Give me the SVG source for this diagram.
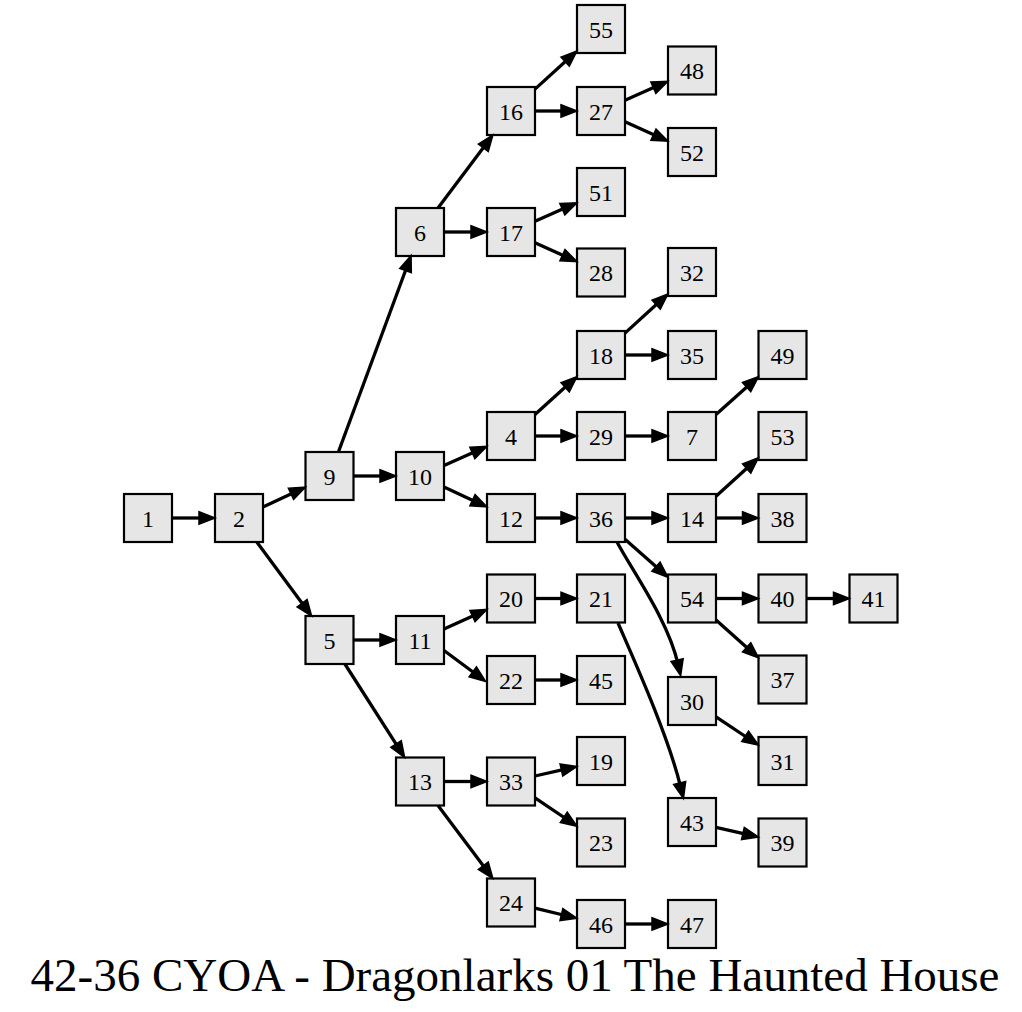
<svg xmlns="http://www.w3.org/2000/svg" width="1022" height="1012" viewBox="0 0 1022 1012">
<style>
.node rect{fill:#e6e6e6;stroke:#000;stroke-width:2.2}
.node text{font-family:"Liberation Serif","Times New Roman",serif;font-size:24px;text-anchor:middle;fill:#000}
.edge{stroke:#000;stroke-width:3.3;fill:none;marker-end:url(#ah)}
.title{font-family:"Liberation Serif","Times New Roman",serif;font-size:47px;text-anchor:middle;fill:#000}
</style>
<defs>
<marker id="ah" viewBox="0 0 16 14" refX="4" refY="7" markerWidth="16" markerHeight="14" markerUnits="userSpaceOnUse" orient="auto" overflow="visible">
<path d="M0,0.8 L16,7 L0,13.2 z" fill="#000" stroke="#000" stroke-width="1.5" stroke-linejoin="miter"/>
</marker>
</defs>
<rect width="1022" height="1012" fill="#fff"/>
<g id="nodes">
<g id="n1" class="node"><rect x="124" y="494" width="48" height="48"/><text x="148" y="526.5">1</text></g>
<g id="n2" class="node"><rect x="215" y="494" width="48" height="48"/><text x="239" y="526.5">2</text></g>
<g id="n9" class="node"><rect x="305.5" y="452" width="48" height="48"/><text x="329.5" y="484.5">9</text></g>
<g id="n5" class="node"><rect x="305.5" y="616" width="48" height="48"/><text x="329.5" y="648.5">5</text></g>
<g id="n6" class="node"><rect x="396" y="208" width="48" height="48"/><text x="420" y="240.5">6</text></g>
<g id="n10" class="node"><rect x="396" y="452" width="48" height="48"/><text x="420" y="484.5">10</text></g>
<g id="n11" class="node"><rect x="396" y="616" width="48" height="48"/><text x="420" y="648.5">11</text></g>
<g id="n13" class="node"><rect x="396" y="757.5" width="48" height="48"/><text x="420" y="790">13</text></g>
<g id="n16" class="node"><rect x="487" y="87" width="48" height="48"/><text x="511" y="119.5">16</text></g>
<g id="n17" class="node"><rect x="487" y="208" width="48" height="48"/><text x="511" y="240.5">17</text></g>
<g id="n4" class="node"><rect x="487" y="412" width="48" height="48"/><text x="511" y="444.5">4</text></g>
<g id="n12" class="node"><rect x="487" y="494" width="48" height="48"/><text x="511" y="526.5">12</text></g>
<g id="n20" class="node"><rect x="487" y="574.5" width="48" height="48"/><text x="511" y="607">20</text></g>
<g id="n22" class="node"><rect x="487" y="656" width="48" height="48"/><text x="511" y="688.5">22</text></g>
<g id="n33" class="node"><rect x="487" y="757.5" width="48" height="48"/><text x="511" y="790">33</text></g>
<g id="n24" class="node"><rect x="487" y="878.5" width="48" height="48"/><text x="511" y="911">24</text></g>
<g id="n55" class="node"><rect x="577" y="5" width="48" height="48"/><text x="601" y="37.5">55</text></g>
<g id="n27" class="node"><rect x="577" y="87" width="48" height="48"/><text x="601" y="119.5">27</text></g>
<g id="n51" class="node"><rect x="577" y="168" width="48" height="48"/><text x="601" y="200.5">51</text></g>
<g id="n28" class="node"><rect x="577" y="248.5" width="48" height="48"/><text x="601" y="281">28</text></g>
<g id="n18" class="node"><rect x="577" y="331" width="48" height="48"/><text x="601" y="363.5">18</text></g>
<g id="n29" class="node"><rect x="577" y="412" width="48" height="48"/><text x="601" y="444.5">29</text></g>
<g id="n36" class="node"><rect x="577" y="494" width="48" height="48"/><text x="601" y="526.5">36</text></g>
<g id="n21" class="node"><rect x="577" y="574.5" width="48" height="48"/><text x="601" y="607">21</text></g>
<g id="n45" class="node"><rect x="577" y="656" width="48" height="48"/><text x="601" y="688.5">45</text></g>
<g id="n19" class="node"><rect x="577" y="737" width="48" height="48"/><text x="601" y="769.5">19</text></g>
<g id="n23" class="node"><rect x="577" y="818.5" width="48" height="48"/><text x="601" y="851">23</text></g>
<g id="n46" class="node"><rect x="577" y="900" width="48" height="48"/><text x="601" y="932.5">46</text></g>
<g id="n48" class="node"><rect x="668" y="46.5" width="48" height="48"/><text x="692" y="79">48</text></g>
<g id="n52" class="node"><rect x="668" y="128" width="48" height="48"/><text x="692" y="160.5">52</text></g>
<g id="n32" class="node"><rect x="668" y="248" width="48" height="48"/><text x="692" y="280.5">32</text></g>
<g id="n35" class="node"><rect x="668" y="331" width="48" height="48"/><text x="692" y="363.5">35</text></g>
<g id="n7" class="node"><rect x="668" y="412" width="48" height="48"/><text x="692" y="444.5">7</text></g>
<g id="n14" class="node"><rect x="668" y="494" width="48" height="48"/><text x="692" y="526.5">14</text></g>
<g id="n54" class="node"><rect x="668" y="574.5" width="48" height="48"/><text x="692" y="607">54</text></g>
<g id="n30" class="node"><rect x="668" y="677" width="48" height="48"/><text x="692" y="709.5">30</text></g>
<g id="n43" class="node"><rect x="668" y="798" width="48" height="48"/><text x="692" y="830.5">43</text></g>
<g id="n47" class="node"><rect x="668" y="900" width="48" height="48"/><text x="692" y="932.5">47</text></g>
<g id="n49" class="node"><rect x="758.5" y="331" width="48" height="48"/><text x="782.5" y="363.5">49</text></g>
<g id="n53" class="node"><rect x="758.5" y="412" width="48" height="48"/><text x="782.5" y="444.5">53</text></g>
<g id="n38" class="node"><rect x="758.5" y="494" width="48" height="48"/><text x="782.5" y="526.5">38</text></g>
<g id="n40" class="node"><rect x="758.5" y="574.5" width="48" height="48"/><text x="782.5" y="607">40</text></g>
<g id="n37" class="node"><rect x="758.5" y="655.5" width="48" height="48"/><text x="782.5" y="688">37</text></g>
<g id="n31" class="node"><rect x="758.5" y="737" width="48" height="48"/><text x="782.5" y="769.5">31</text></g>
<g id="n39" class="node"><rect x="758.5" y="818.5" width="48" height="48"/><text x="782.5" y="851">39</text></g>
<g id="n41" class="node"><rect x="849.5" y="574.5" width="48" height="48"/><text x="873.5" y="607">41</text></g>
</g>
<g id="edges">
<path class="edge" d="M172,518 L203,518"/>
<path class="edge" d="M263,506.9 L294.6,492.2"/>
<path class="edge" d="M256.8,542 L304.5,606.4"/>
<path class="edge" d="M338.4,452 L406.9,266.8"/>
<path class="edge" d="M353.5,476 L384,476"/>
<path class="edge" d="M353.5,640 L384,640"/>
<path class="edge" d="M344.9,664 L398.2,747.4"/>
<path class="edge" d="M438,208 L485.7,144.6"/>
<path class="edge" d="M444,232 L475,232"/>
<path class="edge" d="M535,89.1 L568.1,59"/>
<path class="edge" d="M535,111 L565,111"/>
<path class="edge" d="M625,100.3 L657,86.1"/>
<path class="edge" d="M625,121.8 L657.1,136.3"/>
<path class="edge" d="M535,221.3 L566,207.6"/>
<path class="edge" d="M535,242.8 L566.1,256.8"/>
<path class="edge" d="M444,465.5 L476,451.3"/>
<path class="edge" d="M444,487.1 L476.1,501.9"/>
<path class="edge" d="M535,414.4 L568.1,384.6"/>
<path class="edge" d="M535,436 L565,436"/>
<path class="edge" d="M625,333.1 L659.1,302"/>
<path class="edge" d="M625,355 L656,355"/>
<path class="edge" d="M625,436 L656,436"/>
<path class="edge" d="M716,414.5 L749.6,384.5"/>
<path class="edge" d="M535,518 L565,518"/>
<path class="edge" d="M625,518 L656,518"/>
<path class="edge" d="M625,539.2 L659,569.3"/>
<path class="edge" d="M617,542 C633,572 668,620 678,664"/>
<path class="edge" d="M716,496.3 L749.6,465.8"/>
<path class="edge" d="M716,518 L746.5,518"/>
<path class="edge" d="M716,598.5 L746.5,598.5"/>
<path class="edge" d="M716,620 L749.6,650"/>
<path class="edge" d="M806.5,598.5 L837.5,598.5"/>
<path class="edge" d="M716,716.9 L748.5,738.5"/>
<path class="edge" d="M444,629.1 L476.1,614.4"/>
<path class="edge" d="M444,650.5 L476,674.3"/>
<path class="edge" d="M535,598.5 L565,598.5"/>
<path class="edge" d="M618,623 C634,660 668,735 680.6,786.8"/>
<path class="edge" d="M535,680 L565,680"/>
<path class="edge" d="M716,827.4 L746.8,834.4"/>
<path class="edge" d="M444,781.5 L475,781.5"/>
<path class="edge" d="M438,805.5 L485.7,868.9"/>
<path class="edge" d="M535,776 L565.3,769.2"/>
<path class="edge" d="M535,797.8 L567.1,819.5"/>
<path class="edge" d="M535,908.2 L565.3,915.5"/>
<path class="edge" d="M625,924 L656,924"/>
</g>
<text class="title" x="515" y="991">42-36 CYOA - Dragonlarks 01 The Haunted House</text>
</svg>
